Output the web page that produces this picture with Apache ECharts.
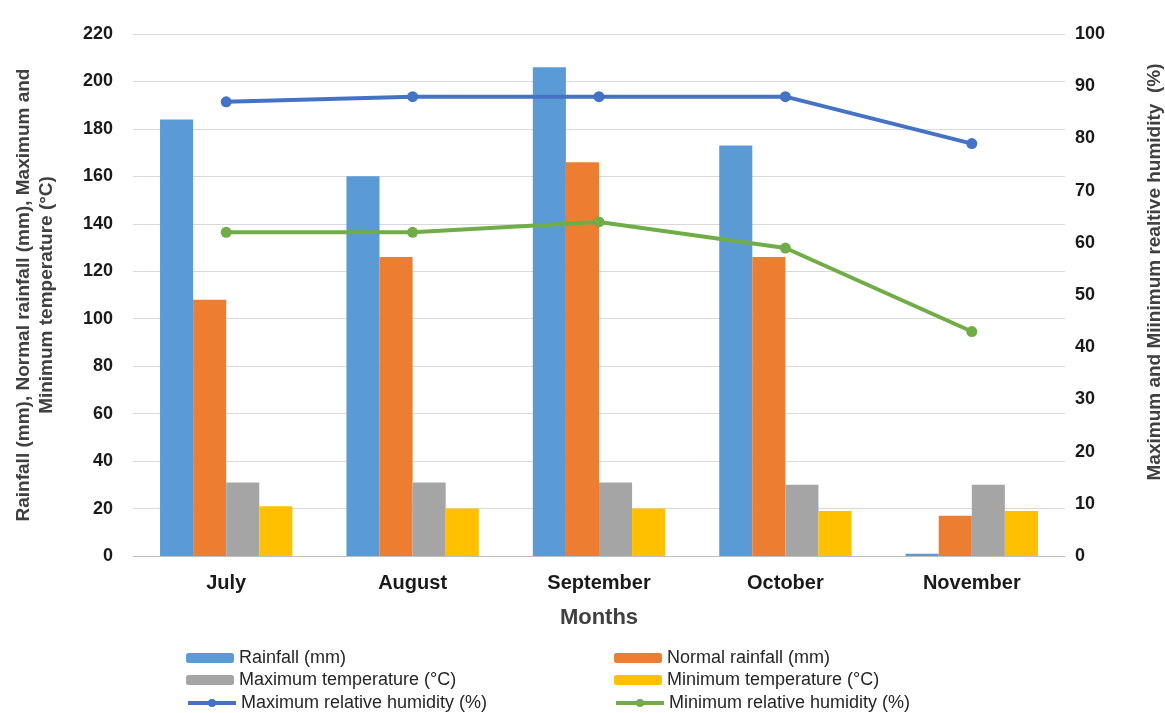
<!DOCTYPE html>
<html>
<head>
<meta charset="utf-8">
<script src="https://cdn.jsdelivr.net/npm/echarts@6/dist/echarts.min.js"></script>
<style>
  html, body { margin: 0; padding: 0; background: #ffffff; }
  #chart { width: 1165px; height: 713px; }
</style>
</head>
<body>
<div id="chart"></div>
<script>
// Monthly weather summary: rainfall and temperature (left axis), relative humidity (right axis)
const months = ['July', 'August', 'September', 'October', 'November'];
const rainfall = [184, 160, 206, 173, 1];
const normalRainfall = [108, 126, 166, 126, 17];
const maxTemp = [31, 31, 31, 30, 30];
const minTemp = [21, 20, 20, 19, 19];
const maxHumidity = [87, 88, 88, 88, 79];
const minHumidity = [62, 62, 64, 59, 43];

const seriesNames = [
  'Rainfall (mm)', 'Normal rainfall (mm)',
  'Maximum temperature (°C)', 'Minimum temperature (°C)',
  'Maximum relative humidity (%)', 'Minimum relative humidity (%)'
];

const FONT = '"Liberation Sans", Arial, sans-serif';
const DARK = '#404040';

const chart = echarts.init(document.getElementById('chart'));

// Two-column legend, one legend box per entry
const legendCols = [181, 609];
const legendRows = [644, 666, 689];
const legends = seriesNames.map(function (name, i) {
  return {
    left: legendCols[i % 2],
    top: legendRows[Math.floor(i / 2)],
    orient: 'horizontal',
    itemWidth: 48, itemHeight: 10,
    lineStyle: { width: 4 },
    textStyle: { fontFamily: FONT, fontSize: 18, color: '#262626' },
    data: [name]
  };
});

chart.setOption({
  animation: false,
  backgroundColor: '#ffffff',
  grid: { left: 133, right: 100, top: 34, bottom: 157, containLabel: false, outerBoundsMode: 'none' },
  legend: legends,
  xAxis: {
    type: 'category',
    data: months,
    name: 'Months',
    nameLocation: 'middle',
    nameGap: 51,
    nameTextStyle: { fontFamily: FONT, fontSize: 22, fontWeight: 'bold', color: DARK },
    axisLine: { lineStyle: { color: '#bfbfbf', width: 1 } },
    axisTick: { show: false },
    axisLabel: { fontFamily: FONT, fontSize: 20, fontWeight: 'bold', color: '#1a1a1a', margin: 17 }
  },
  yAxis: [
    {
      type: 'value', min: 0, max: 220, interval: 20,
      name: 'Rainfall (mm), Normal rainfall (mm), Maximum and\nMinimum temperature (°C)',
      nameLocation: 'middle', nameRotate: 90, nameGap: 75,
      nameTextStyle: { fontFamily: FONT, fontSize: 19, fontWeight: 'bold', color: DARK, lineHeight: 23 },
      axisLine: { show: false }, axisTick: { show: false },
      axisLabel: { fontFamily: FONT, fontSize: 18, fontWeight: 'bold', color: '#1a1a1a', margin: 20 },
      splitLine: { lineStyle: { color: '#d9d9d9', width: 1 } }
    },
    {
      type: 'value', min: 0, max: 100, interval: 10, position: 'right',
      name: 'Maximum and Miinimum realtive humidity  (%)',
      nameLocation: 'middle', nameRotate: 90, nameGap: 80,
      nameTextStyle: { fontFamily: FONT, fontSize: 19, fontWeight: 'bold', color: DARK, padding: [0, 0, 0, 46] },
      axisLine: { show: false }, axisTick: { show: false },
      axisLabel: { fontFamily: FONT, fontSize: 18, fontWeight: 'bold', color: '#1a1a1a', margin: 10 },
      splitLine: { show: false }
    }
  ],
  series: [
    { name: seriesNames[0], type: 'bar', data: rainfall, itemStyle: { color: '#5B9BD5' }, barGap: '0%', barCategoryGap: '29%' },
    { name: seriesNames[1], type: 'bar', data: normalRainfall, itemStyle: { color: '#ED7D31' } },
    { name: seriesNames[2], type: 'bar', data: maxTemp, itemStyle: { color: '#A5A5A5' } },
    { name: seriesNames[3], type: 'bar', data: minTemp, itemStyle: { color: '#FFC000' } },
    {
      name: seriesNames[4], type: 'line', yAxisIndex: 1, data: maxHumidity,
      symbol: 'circle', symbolSize: 11,
      lineStyle: { color: '#4472C4', width: 4 }, itemStyle: { color: '#4472C4' }
    },
    {
      name: seriesNames[5], type: 'line', yAxisIndex: 1, data: minHumidity,
      symbol: 'circle', symbolSize: 11,
      lineStyle: { color: '#70AD47', width: 4 }, itemStyle: { color: '#70AD47' }
    }
  ]
});
</script>
</body>
</html>
